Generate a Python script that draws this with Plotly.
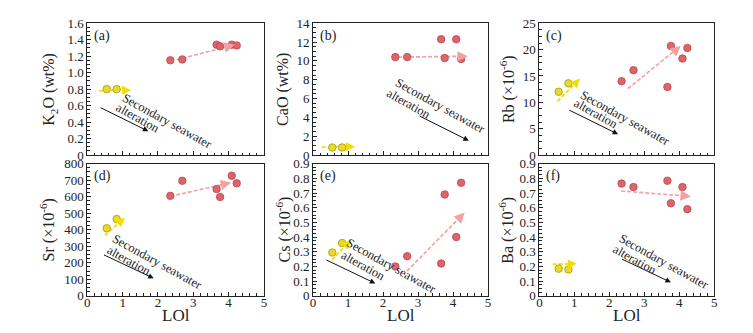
import math
import plotly.graph_objects as go

# ---------------- data ----------------
x_yellow = [0.55, 0.83]
x_red = [2.35, 2.69, 3.66, 3.76, 4.09, 4.23]

k2o_yellow = [0.80, 0.80]
k2o_red = [1.15, 1.16, 1.34, 1.32, 1.34, 1.33]
cao_yellow = [0.8, 0.8]
cao_red = [10.4, 10.4, 12.3, 10.3, 12.3, 10.2]
rb_yellow = [12.0, 13.6]
rb_red = [14.0, 16.1, 12.9, 20.7, 18.3, 20.3]
sr_yellow = [409, 465]
sr_red = [605, 696, 646, 598, 727, 681]
cs_yellow = [0.295, 0.36]
cs_red = [0.20, 0.27, 0.22, 0.69, 0.40, 0.77]
ba_yellow = [0.185, 0.18]
ba_red = [0.764, 0.74, 0.784, 0.63, 0.74, 0.59]

yellow_sets = [k2o_yellow, cao_yellow, rb_yellow, sr_yellow, cs_yellow, ba_yellow]
red_sets = [k2o_red, cao_red, rb_red, sr_red, cs_red, ba_red]

panel_labels = ["(a)", "(b)", "(c)", "(d)", "(e)", "(f)"]
y_titles = ["K<sub>2</sub>O (wt%)", "CaO (wt%)", "Rb (×10<sup>-6</sup>)",
            "Sr (×10<sup>-6</sup>)", "Cs (×10<sup>-6</sup>)", "Ba (×10<sup>-6</sup>)"]
x_title = "LOl"
x_ticks = [0, 1, 2, 3, 4, 5]
y_tickvals = [
    [0, 0.2, 0.4, 0.6, 0.8, 1.0, 1.2, 1.4, 1.6],
    [0, 2, 4, 6, 8, 10, 12, 14],
    [0, 5, 10, 15, 20, 25],
    [0, 100, 200, 300, 400, 500, 600, 700, 800],
    [0, 0.1, 0.2, 0.3, 0.4, 0.5, 0.6, 0.7, 0.8, 0.9],
    [0, 0.1, 0.2, 0.3, 0.4, 0.5, 0.6, 0.7, 0.8, 0.9],
]
y_ticktext = [
    ["0", "0.2", "0.4", "0.6", "0.8", "1.0", "1.2", "1.4", "1.6"],
    ["0", "2", "4", "6", "8", "10", "12", "14"],
    ["0", "5", "10", "15", "20", "25"],
    ["0", "100", "200", "300", "400", "500", "600", "700", "800"],
    ["0", "0.1", "0.2", "0.3", "0.4", "0.5", "0.6", "0.7", "0.8", "0.9"],
    ["0", "0.1", "0.2", "0.3", "0.4", "0.5", "0.6", "0.7", "0.8", "0.9"],
]

# trend arrows: (x_start, y_start, x_end, y_end)
yellow_arrows = [(0.33, 0.78, 1.24, 0.79), (0.25, 0.84, 1.2, 0.88), (0.52, 10.2, 1.16, 14.5),
                 (0.5, 367, 1.06, 473), (0.54, 0.245, 1.08, 0.38), (0.38, 0.216, 1.07, 0.218)]
red_arrows = [(2.53, 1.157, 4.17, 1.34), (2.43, 10.4, 4.42, 10.5), (2.53, 12.6, 4.04, 20.7),
              (2.35, 602, 4.07, 685), (2.68, 0.168, 4.33, 0.567), (2.34, 0.714, 4.33, 0.677)]
black_arrows = [(0.33, 0.584, 1.73, 0.289), (3.0, 4.22, 4.45, 1.52), (0.81, 8.66, 2.25, 3.94),
                (0.43, 252, 1.88, 106), (0.34, 0.249, 1.78, 0.085), (2.32, 0.255, 3.76, 0.092)]
# label positions (line1 "Secondary seawater", line2 "alteration")
label1_pos = [(2.25, 0.41), (3.63, 5.16), (2.44, 6.99), (1.98, 203), (2.23, 0.20), (3.57, 0.233)]
label2_pos = [(1.43, 0.45), (2.74, 5.47), (1.63, 7.8), (1.19, 210), (1.44, 0.20), (2.74, 0.245)]
label1_text = "Secondary seawater"
label2_text = "alteration"

# ---------------- layout geometry ----------------
W, H = 753, 333
col_px = [(85, 263), (312.5, 489), (540.7, 717)]
row_px = [(17, 155), (164, 302.5)]
ytitle_x_px = [47, 282, 508, 45, 283, 508]

FONT = "Liberation Serif"
RED_FILL = "#e0636b"
RED_LINE = "#b34a4f"
YEL_FILL = "#e8d92a"
YEL_LINE = "#a89a10"
RED_ARROW = "#f3a0a0"
YEL_ARROW = "#f0de00"
HEAD_PX = 9

fig = go.Figure()
annotations = []
layout = {}

for i in range(6):
    r, c = divmod(i, 3)
    n = "" if i == 0 else str(i + 1)
    xr, yr = "x" + n, "y" + n
    x0, x1 = col_px[c]
    yt, yb = row_px[r]
    ymax = y_tickvals[i][-1]
    dy = y_tickvals[i][1] - y_tickvals[i][0]
    sx = (x1 - x0) / 5.0          # px per x unit
    sy = (yb - yt) / ymax         # px per y unit

    layout["xaxis" + n] = dict(
        domain=[x0 / W, x1 / W], anchor=yr, range=[0, 5],
        tickvals=x_ticks, showticklabels=(r == 1),
        ticks="inside", ticklen=4, tickcolor="#222", tickwidth=1,
        minor=dict(ticks="inside", ticklen=2.5, dtick=0.2, tickcolor="#222", tickwidth=1),
        showline=True, linecolor="#222", linewidth=1, mirror=True,
        showgrid=False, zeroline=False, ticklabelstandoff=-5,
        tickfont=dict(family=FONT, size=13, color="#222"),
    )
    layout["yaxis" + n] = dict(
        domain=[1 - yb / H, 1 - yt / H], anchor=xr, range=[0, ymax],
        tickvals=y_tickvals[i], ticktext=y_ticktext[i],
        ticks="inside", ticklen=4, tickcolor="#222", tickwidth=1,
        minor=dict(ticks="inside", ticklen=2.5, dtick=dy / 4, tickcolor="#222", tickwidth=1),
        showline=True, linecolor="#222", linewidth=1, mirror=True,
        showgrid=False, zeroline=False,
        tickfont=dict(family=FONT, size=13, color="#222"),
    )

    # dashed trend arrows: dashed line + short solid head segment (fixed px length)
    for arr, col, wd, hs in ((yellow_arrows[i], YEL_ARROW, 1.8, 1.0),
                             (red_arrows[i], RED_ARROW, 1.6, 1.3)):
        xs, ys, xe, ye = arr
        px, py = (xe - xs) * sx, (ye - ys) * sy
        ln = math.hypot(px, py)
        ux, uy = px / ln, py / ln
        xm = xe - HEAD_PX * ux / sx
        ym = ye - HEAD_PX * uy / sy
        fig.add_trace(go.Scatter(x=[xs, xm], y=[ys, ym], mode="lines", xaxis=xr, yaxis=yr,
                                 line=dict(color=col, width=wd, dash="4px,2px"),
                                 showlegend=False, hoverinfo="skip"))
        annotations.append(dict(x=xe, y=ye, ax=-HEAD_PX * ux, ay=HEAD_PX * uy,
                                xref=xr, yref=yr, axref="pixel", ayref="pixel",
                                text="", showarrow=True, arrowhead=2, arrowsize=hs,
                                arrowwidth=wd, arrowcolor=col))

    # points
    fig.add_trace(go.Scatter(x=x_yellow, y=yellow_sets[i], mode="markers", xaxis=xr, yaxis=yr,
                             marker=dict(size=7.5, color=YEL_FILL, line=dict(color=YEL_LINE, width=0.8)),
                             showlegend=False))
    fig.add_trace(go.Scatter(x=x_red, y=red_sets[i], mode="markers", xaxis=xr, yaxis=yr,
                             marker=dict(size=7.5, color=RED_FILL, line=dict(color=RED_LINE, width=0.8)),
                             showlegend=False))

    # black alteration arrow
    xs, ys, xe, ye = black_arrows[i]
    annotations.append(dict(x=xe, y=ye, ax=xs, ay=ys, xref=xr, yref=yr, axref=xr, ayref=yr,
                            text="", showarrow=True, arrowhead=2, arrowsize=1.1,
                            arrowwidth=1, arrowcolor="#111"))
    # alteration labels
    for (lx, ly), txt in ((label1_pos[i], label1_text), (label2_pos[i], label2_text)):
        annotations.append(dict(x=lx, y=ly, xref=xr, yref=yr, text=txt, showarrow=False,
                                textangle=29, font=dict(family=FONT, size=12.5, color="#222")))

    # panel label
    annotations.append(dict(x=(x0 + 5) / W, y=1 - (yt + 3) / H, xref="paper", yref="paper",
                            xanchor="left", yanchor="top", text=panel_labels[i], showarrow=False,
                            font=dict(family=FONT, size=14, color="#222")))
    # y title
    annotations.append(dict(x=ytitle_x_px[i] / W, y=1 - (yt + yb) / 2 / H, xref="paper", yref="paper",
                            xanchor="center", yanchor="middle", text=y_titles[i], showarrow=False,
                            textangle=-90, font=dict(family=FONT, size=16, color="#222")))
    # x title
    if r == 1:
        annotations.append(dict(x=(x0 + x1) / 2 / W, y=1 - 323 / H, xref="paper", yref="paper",
                                xanchor="center", yanchor="middle", text=x_title, showarrow=False,
                                font=dict(family=FONT, size=17, color="#222")))

fig.update_layout(
    width=W, height=H,
    margin=dict(l=0, r=0, t=0, b=0),
    paper_bgcolor="white", plot_bgcolor="white",
    annotations=annotations,
    font=dict(family=FONT, color="#222"),
    **layout,
)

fig.write_html("out.html", config={"displayModeBar": False},
               post_script="document.body.style.margin='0';")
